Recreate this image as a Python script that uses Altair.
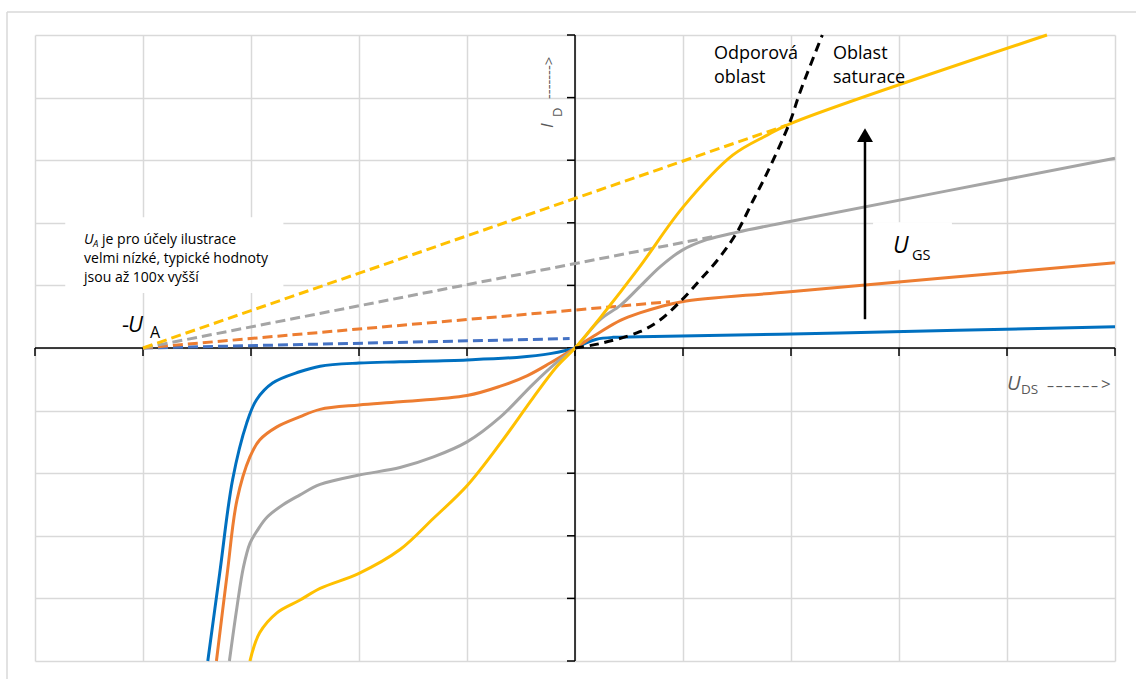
import altair as alt
import pandas as pd

# Output characteristics I_D = f(U_DS) of a MOSFET for four gate voltages
blue_x = [-3.4, -3.29, -3.17, -3.04, -2.95, -2.8, -2.55, -2.36, -2.0, -1.62, -1.0, -0.54, -0.23, 0.0, 0.1, 0.2, 0.35, 0.6, 2.45, 5.0]
blue_y = [-5.0, -3.6, -2.1, -1.2, -0.83, -0.56, -0.38, -0.29, -0.24, -0.22, -0.19, -0.15, -0.09, 0.0, 0.08, 0.14, 0.17, 0.18, 0.24, 0.34]

orange_x = [-3.32, -3.22, -3.13, -3.01, -2.92, -2.76, -2.55, -2.36, -2.0, -1.62, -1.0, -0.69, -0.44, -0.23, 0.0, 0.22, 0.42, 0.6, 0.79, 0.99, 1.99, 5.0]
orange_y = [-5.0, -3.6, -2.43, -1.74, -1.47, -1.26, -1.1, -0.98, -0.91, -0.86, -0.76, -0.61, -0.44, -0.24, 0.0, 0.24, 0.44, 0.56, 0.66, 0.74, 0.9, 1.36]

gray_x = [-3.2, -3.13, -3.07, -3.01, -2.94, -2.85, -2.7, -2.55, -2.36, -2.0, -1.62, -1.31, -1.0, -0.69, -0.39, -0.17, 0.0, 0.23, 0.42, 0.6, 0.79, 0.99, 1.22, 1.5, 1.99, 5.0]
gray_y = [-5.0, -4.14, -3.5, -3.12, -2.91, -2.7, -2.5, -2.35, -2.18, -2.03, -1.91, -1.74, -1.5, -1.1, -0.58, -0.23, 0.0, 0.45, 0.68, 0.98, 1.3, 1.56, 1.73, 1.85, 2.02, 3.03]

yellow_x = [-3.01, -2.92, -2.76, -2.55, -2.36, -2.0, -1.62, -1.31, -1.0, -0.69, -0.39, -0.17, 0.0, 0.25, 0.6, 1.0, 1.46, 1.78, 1.99, 4.37]
yellow_y = [-5.0, -4.55, -4.23, -4.03, -3.84, -3.6, -3.22, -2.72, -2.2, -1.52, -0.8, -0.3, 0.0, 0.52, 1.3, 2.25, 3.08, 3.4, 3.58, 5.0]

# Boundary between the ohmic and the saturation region
bound_x = [0.0, 0.23, 0.6, 0.79, 0.99, 1.16, 1.34, 1.5, 1.65, 1.78, 1.99, 2.08, 2.29]
bound_y = [0.0, 0.07, 0.26, 0.45, 0.77, 1.09, 1.45, 1.85, 2.36, 2.8, 3.61, 4.07, 5.0]

# Extrapolated saturation lines, all meeting at -U_A
early_u = -4.0
ext_names = ["blue", "orange", "gray", "yellow"]
ext_end_x = [-0.05, 0.88, 1.31, 1.96]
ext_end_y = [0.15, 0.74, 1.79, 3.56]

grid_vals = list(range(-5, 6))

SERIES = ["blue", "orange", "gray", "yellow", "blue ext", "orange ext", "gray ext", "yellow ext"]
SERIES_COLORS = ["#0070C0", "#ED7D31", "#A5A5A5", "#FFC000", "#4472C4", "#ED7D31", "#A5A5A5", "#FFC000"]
FONT = "Open Sans"
GRID = "#D9D9D9"
TXT_GRAY = "#595959"

xs = alt.Scale(domain=[-5, 5], nice=False, zero=False)
ys = alt.Scale(domain=[-5, 5], nice=False, zero=False)
gx = alt.Axis(values=grid_vals, grid=True, labels=False, ticks=False, domain=False,
              title=None, gridColor=GRID, gridWidth=1.5)
gy = alt.Axis(values=grid_vals, grid=True, labels=False, ticks=False, domain=False,
              title=None, gridColor=GRID, gridWidth=1.5)
color_enc = alt.Color("series:N", scale=alt.Scale(domain=SERIES, range=SERIES_COLORS), legend=None)

# pixel size of one unit on each axis (plot is 1080 x 626 for 10 x 10 units)
PX_U = 108.0
PX_I = 62.6


def X(field="u"):
    return alt.X(f"{field}:Q", scale=xs, axis=gx, title=None)


def Y(field="i"):
    return alt.Y(f"{field}:Q", scale=ys, axis=gy, title=None)


def frame(name, px, py):
    return pd.DataFrame({"series": name, "u": px, "i": py, "k": list(range(len(px)))})


solid = pd.concat([
    frame("blue", blue_x, blue_y),
    frame("orange", orange_x, orange_y),
    frame("gray", gray_x, gray_y),
    frame("yellow", yellow_x, yellow_y),
])

dashed = pd.concat([
    frame(n + " ext", [early_u, ex], [0.0, ey])
    for n, ex, ey in zip(ext_names, ext_end_x, ext_end_y)
])

bound = frame("bound", bound_x, bound_y)

# white boxes behind the text annotations
boxes = pd.DataFrame({"u": [-4.72, 2.76], "u2": [-2.70, 3.49], "i": [2.09, 2.01], "i2": [0.88, 1.25]})
box_layer = alt.Chart(boxes).mark_rect(color="white").encode(
    x=X(), x2="u2:Q", y=Y(), y2="i2:Q")

# coordinate axes crossing at the origin
axes_df = pd.DataFrame({"u": [-5, 0], "u2": [5, 0], "i": [0, -5], "i2": [0, 5]})
axes_layer = alt.Chart(axes_df).mark_rule(color="black", strokeWidth=1.5).encode(
    x=X(), x2="u2:Q", y=Y(), y2="i2:Q")

xt = pd.DataFrame({"u": grid_vals, "i": [0] * len(grid_vals)})
xtick_layer = alt.Chart(xt).mark_tick(orient="vertical", size=8, thickness=1.5,
                                       color="black", yOffset=4, opacity=1).encode(x=X(), y=Y())
yt = pd.DataFrame({"u": [0] * len(grid_vals), "i": grid_vals})
ytick_layer = alt.Chart(yt).mark_tick(orient="horizontal", size=8, thickness=1.5,
                                       color="black", xOffset=-4, opacity=1).encode(x=X(), y=Y())

dash_layer = alt.Chart(dashed).mark_line(strokeWidth=3, strokeDash=[10, 5]).encode(
    x=X(), y=Y(), detail="series:N", order="k:Q", color=color_enc)

solid_layer = alt.Chart(solid).mark_line(strokeWidth=3, interpolate="catmull-rom").encode(
    x=X(), y=Y(), detail="series:N", order="k:Q", color=color_enc)

bound_layer = alt.Chart(bound).mark_line(strokeWidth=3, strokeDash=[9, 6], color="black",
                                         interpolate="catmull-rom").encode(x=X(), y=Y(), order="k:Q")

# arrow showing increasing U_GS
arrow_u = 2.685
arrow_df = pd.DataFrame({"u": [arrow_u], "i": [0.46], "i2": [3.3]})
arrow_shaft = alt.Chart(arrow_df).mark_rule(color="black", strokeWidth=2.5).encode(
    x=X(), y=Y(), y2="i2:Q")
arrow_head = alt.Chart(pd.DataFrame({"u": [arrow_u], "i": [3.40]})).mark_point(
    shape="triangle-up", size=256, filled=True, color="black", opacity=1).encode(x=X(), y=Y())

# outer chart-area border (top and left edges)
border_top = alt.Chart(pd.DataFrame({"k": [0]})).mark_rule(color=GRID, strokeWidth=1.5).encode(
    x=alt.value(-28), x2=alt.value(1101), y=alt.value(-23), y2=alt.value(-23))
border_left = alt.Chart(pd.DataFrame({"k": [0]})).mark_rule(color=GRID, strokeWidth=1.5).encode(
    x=alt.value(-28), x2=alt.value(-28), y=alt.value(-23), y2=alt.value(644))


def label(u, i, text, size, italic=False, color="black", dx=0, dy=0, angle=0):
    props = dict(font=FONT, fontSize=size, color=color, align="left",
                 baseline="alphabetic", dx=dx, dy=dy)
    if italic:
        props["fontStyle"] = "italic"
    if angle:
        props["angle"] = angle
    return alt.Chart(pd.DataFrame({"u": [u], "i": [i], "t": [text]})).mark_text(**props).encode(
        x=X(), y=Y(), text="t:N")


def spaced(u, i, text, size, step, color):
    """Horizontal text with a fixed advance per character (letter-spaced)."""
    df = pd.DataFrame({"u": [u + j * step / PX_U for j in range(len(text))],
                       "i": [i] * len(text), "t": list(text)})
    return alt.Chart(df).mark_text(font=FONT, fontSize=size, color=color, align="left",
                                   baseline="alphabetic").encode(x=X(), y=Y(), text="t:N")


note_u, note_i = -4.546, 1.661
ua_u, ua_i = -4.194, 0.256
id_u, id_i = -0.204, 3.514
uds_u, uds_i = 4.0, -0.671
ugs_u, ugs_i = 2.944, 1.518
ohm_u, ohm_i = 1.287, 4.617
sat_u, sat_i = 2.389, 4.617

labels = [
    label(note_u, note_i, "U", 14, italic=True),
    label(note_u, note_i, "A", 9.5, italic=True, dx=9, dy=3),
    label(note_u, note_i, "je pro účely ilustrace", 14, dx=18),
    label(note_u, note_i, "velmi nízké, typické hodnoty", 14, dy=19),
    label(note_u, note_i, "jsou až 100x vyšší", 14, dy=37.5),
    label(ua_u, ua_i, "-", 22),
    label(ua_u, ua_i, "U", 22, italic=True, dx=6),
    label(ua_u, ua_i, "A", 16, dx=28, dy=6),
    label(id_u, id_i, "I", 17, italic=True, color=TXT_GRAY, angle=270),
    label(id_u, id_i, "D", 13, color=TXT_GRAY, angle=270, dx=11, dy=9),
    label(id_u, id_i, "------->", 15, color=TXT_GRAY, angle=270, dx=29, dy=1),
    label(uds_u, uds_i, "U", 20, italic=True, color=TXT_GRAY),
    label(uds_u, uds_i, "DS", 13.5, color=TXT_GRAY, dx=14, dy=4),
    spaced(uds_u + 40 / PX_U, uds_i - 1 / PX_I, "––––––", 14, 8.8, TXT_GRAY),
    label(uds_u, uds_i, ">", 17, color=TXT_GRAY, dx=94),
    label(ugs_u, ugs_i, "U", 23, italic=True),
    label(ugs_u, ugs_i, "GS", 14.5, dx=19, dy=7),
    label(ohm_u, ohm_i, "Odporová", 18),
    label(ohm_u, ohm_i, "oblast", 18, dy=24),
    label(sat_u, sat_i, "Oblast", 18),
    label(sat_u, sat_i, "saturace", 18, dy=24),
]

chart = alt.layer(
    box_layer, axes_layer, xtick_layer, ytick_layer, dash_layer, solid_layer, bound_layer,
    arrow_shaft, arrow_head, border_top, border_left, *labels
).properties(
    width=1080, height=626,
    padding={"left": 35, "top": 35, "right": 21, "bottom": 18},
    autosize="none",
    background="white",
).configure_view(strokeWidth=0)

chart.save("out.html", embed_options={"renderer": "svg", "actions": False})
